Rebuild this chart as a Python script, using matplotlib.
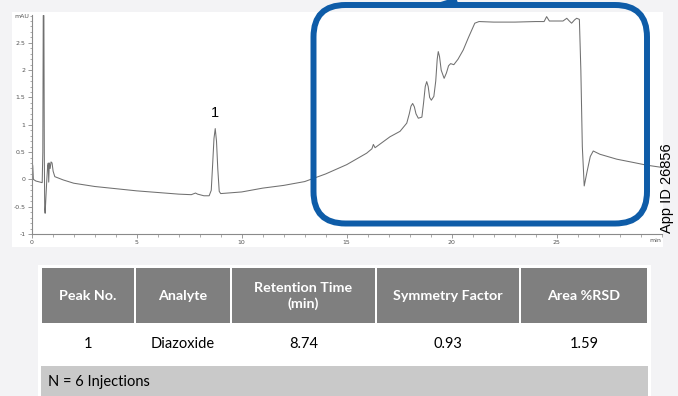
import matplotlib.pyplot as plt
from matplotlib.patches import Rectangle, FancyBboxPatch
from matplotlib.ticker import MultipleLocator

# chromatogram (time in min, signal in mAU)
time_min = [0.0, 0.01, 0.05, 0.08, 0.2, 0.4, 0.5, 0.53, 0.55, 0.58, 0.60, 0.62, 0.64, 0.68,
            0.72, 0.76, 0.79, 0.81, 0.84, 0.88, 0.92, 0.97, 1.02, 1.1, 1.5, 2.0, 3.0, 4.0,
            5.0, 6.0, 7.0, 7.6, 7.8, 7.9, 8.2, 8.45, 8.55, 8.62, 8.68, 8.74, 8.80, 8.86,
            8.93, 9.0, 10.0, 11.0, 12.0, 13.0, 14.0, 15.0, 15.95, 16.2, 16.27, 16.35, 17.06,
            17.54, 17.86, 17.98, 18.06, 18.14, 18.22, 18.3, 18.41, 18.58, 18.66, 18.74, 18.81,
            18.88, 18.95, 19.03, 19.15, 19.24, 19.31, 19.36, 19.42, 19.5, 19.64, 19.75, 19.85,
            19.95, 20.1, 20.3, 20.55, 20.8, 21.1, 21.3,
            22.0, 23.0, 24.0, 24.4, 24.52, 24.65, 25.3, 25.48, 25.6, 25.71, 25.85, 25.95,
            26.08, 26.15, 26.22, 26.31, 26.45, 26.6, 26.74, 27.06, 27.86, 28.65, 29.29, 30.0]
signal_mau = [0.0, 0.32, 0.25, 0.0, -0.03, -0.05, -0.06, 0.5, 3.0, 3.0, 0.5, -0.55, -0.62, -0.3,
              0.0, 0.25, 0.3, -0.05, 0.3, 0.2, 0.32, 0.3, 0.15, 0.05, -0.01, -0.07, -0.13, -0.17,
              -0.21, -0.24, -0.27, -0.28, -0.25, -0.27, -0.30, -0.30, -0.2, 0.3, 0.75, 0.93, 0.7, 0.2,
              -0.22, -0.26, -0.23, -0.16, -0.11, -0.04, 0.1, 0.27, 0.48, 0.56, 0.64, 0.58, 0.78,
              0.88, 1.03, 1.2, 1.34, 1.39, 1.33, 1.2, 1.12, 1.14, 1.4, 1.7, 1.79,
              1.7, 1.5, 1.45, 1.52, 1.8, 2.2, 2.34, 2.25, 2.0, 1.85, 1.95, 2.08,
              2.12, 2.10, 2.2, 2.37, 2.6, 2.86, 2.89,
              2.88, 2.88, 2.89, 2.89, 2.98, 2.9, 2.9, 2.95, 2.9, 2.86, 2.92, 2.95,
              2.93, 2.0, 0.6, -0.12, 0.15, 0.42, 0.52, 0.46, 0.37, 0.31, 0.26, 0.22]

peak_time = 8.74
peak_label = "1"

col_headers = ["Peak No.", "Analyte", "Retention Time\n(min)", "Symmetry Factor", "Area %RSD"]
row_values = ["1", "Diazoxide", "8.74", "0.93", "1.59"]
footnote = "N = 6 Injections"
app_id = "App ID 26856"

W, H = 678, 396
fig = plt.figure(figsize=(W / 100, H / 100), dpi=100, facecolor="#f3f3f5")

# background layer in pixel coords
bg = fig.add_axes([0, 0, 1, 1], zorder=0)
bg.set_xlim(0, W)
bg.set_ylim(H, 0)
bg.axis("off")
bg.add_patch(Rectangle((12, 12), 651, 235, facecolor="white", edgecolor="none"))
bg.text(22, 17, "mAU", fontsize=4.5, color="#555555", ha="center", va="center")
bg.text(655, 241, "min", fontsize=4.5, color="#555555", ha="center", va="center")

# table
bg.add_patch(Rectangle((38, 265), 613, 131, facecolor="white", edgecolor="none"))
edges = [41, 135, 231, 376, 520, 648]
for i, h in enumerate(col_headers):
    x0, x1 = edges[i], edges[i + 1]
    bg.add_patch(Rectangle((x0 + 1, 268), x1 - x0 - 2, 55, facecolor="#7f7f7f", edgecolor="none"))
    bg.text((x0 + x1) / 2, 296, h, color="white", fontsize=10.3, fontweight="bold",
            family="Lato", ha="center", va="center", linespacing=1.3)
    bg.text((x0 + x1) / 2, 344, row_values[i], color="black", fontsize=10.5,
            family="Lato", ha="center", va="center")
bg.add_patch(Rectangle((41, 366), 607, 30, facecolor="#c9c9c9", edgecolor="none"))
bg.text(48, 382, footnote, color="black", fontsize=10.5, family="Lato", ha="left", va="center")

# chromatogram
ax = fig.add_axes([31.7 / W, (H - 234) / H, 630 / W, 219 / H], zorder=1)
ax.set_facecolor("none")
ax.plot(time_min, signal_mau, color="#707070", lw=0.75)
ax.set_xlim(0, 30)
ax.set_ylim(-1, 3.01)
ax.xaxis.set_major_locator(MultipleLocator(5))
ax.xaxis.set_minor_locator(MultipleLocator(1))
ax.yaxis.set_major_locator(MultipleLocator(0.5))
ax.yaxis.set_minor_locator(MultipleLocator(0.1))
ax.set_xticks([0, 5, 10, 15, 20, 25])
ax.set_xticklabels(["0", "5", "10", "15", "20", "25"])
ax.set_yticks([-1, -0.5, 0, 0.5, 1, 1.5, 2, 2.5])
ax.set_yticklabels(["-1", "-0.5", "0", "0.5", "1", "1.5", "2", "2.5"])
for s in ["top", "right"]:
    ax.spines[s].set_visible(False)
for s in ["left", "bottom"]:
    ax.spines[s].set_color("#8a8a8a")
    ax.spines[s].set_linewidth(0.8)
ax.tick_params(which="major", length=3, width=0.6, color="#8a8a8a", labelsize=4.5,
               labelcolor="#555555", pad=1.5)
ax.tick_params(which="minor", length=1.8, width=0.5, color="#8a8a8a")
ax.text(peak_time, 1.21, peak_label, fontsize=10.5, family="Liberation Sans",
        ha="center", va="center")

# blue highlight box on top
fg = fig.add_axes([0, 0, 1, 1], zorder=2)
fg.set_xlim(0, W)
fg.set_ylim(H, 0)
fg.axis("off")
fg.set_facecolor("none")
fg.add_patch(FancyBboxPatch((313.5, 5), 333.5, 218.5, boxstyle="round,pad=0,rounding_size=32",
                            facecolor="none", edgecolor="#0e5ca8", lw=4.3))
fg.plot([441, 457], [5, 0], color="#0e5ca8", lw=4.3, solid_capstyle="butt")
fg.text(660.5, 233, app_id, rotation=90, fontsize=10.5, family="Liberation Sans",
        ha="left", va="bottom")

fig.savefig("out.png", dpi=100, facecolor=fig.get_facecolor())
